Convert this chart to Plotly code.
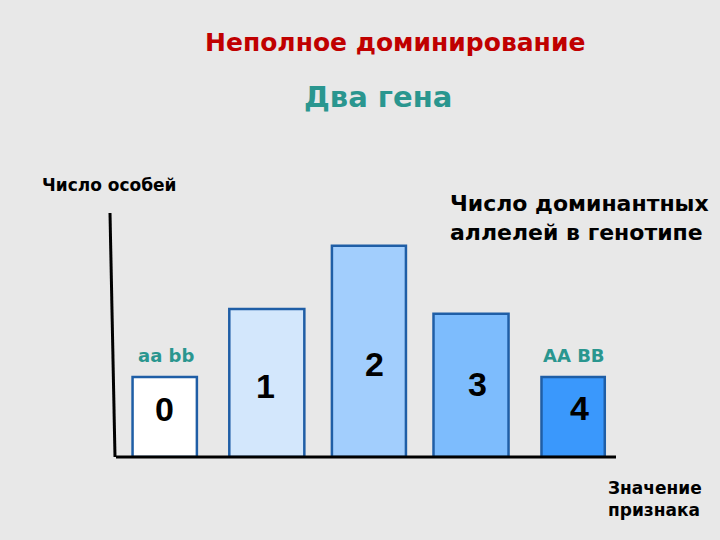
import plotly.graph_objects as go

# ---- data ----
categories = [0, 1, 2, 3, 4]
category_labels = ["0", "1", "2", "3", "4"]
counts = [1.0, 1.85, 2.64, 1.79, 1.0]
genotype_labels = ["aa bb", "", "", "", "AA BB"]

# ---- styles ----
bar_colors = ["#FFFFFF", "#D3E7FC", "#A2CEFD", "#7DBCFD", "#3A98FC"]
bar_widths = [0.63, 0.735, 0.725, 0.735, 0.62]
label_y = [0.6, 0.89, 1.16, 0.91, 0.61]
label_dx = [0, -1, 6, 6, 6]

BG = "#E8E8E8"
L, R, T, B = 115, 104, 213, 83
W, H = 720, 540
pw, ph = W - L - R, H - T - B


def px(x):
    return (x - L) / pw


def py(y):
    return (H - B - y) / ph


fig = go.Figure()
fig.add_trace(go.Bar(
    x=categories, y=counts, width=bar_widths,
    marker=dict(color=bar_colors, line=dict(color="#1F5EA6", width=2.5)),
    hoverinfo="skip", showlegend=False,
))

ann = []
for c, lab, yy, dx in zip(categories, category_labels, label_y, label_dx):
    ann.append(dict(x=c, y=yy, xref="x", yref="y", text="<b>" + lab + "</b>", showarrow=False,
                    xshift=dx, font=dict(family="Liberation Sans", size=34, color="#000000")))
for c, g in zip(categories, genotype_labels):
    if g:
        ann.append(dict(x=c, y=1.275, xref="x", yref="y", text="<b>" + g + "</b>", showarrow=False,
                        xshift=1, font=dict(family="DejaVu Sans", size=18, color="#2A968F")))

def txt(x, y, s, size, color, family="DejaVu Sans", bold=True, align="center", xanchor="center"):
    if bold:
        s = "<b>" + s + "</b>"
    ann.append(dict(x=px(x), y=py(y), xref="paper", yref="paper", text=s, showarrow=False,
                    align=align, xanchor=xanchor, yanchor="middle",
                    font=dict(family=family, size=size, color=color)))

txt(395, 42, "Неполное доминирование", 25, "#C00000")
txt(378, 97, "Два гена", 29, "#2A968F")
txt(40, 185, "Число особей", 17, "#000000", align="left", xanchor="left")
txt(579, 218, "Число доминантных<br>аллелей в генотипе", 22, "#000000", align="left")
txt(655, 499, "Значение<br>признака", 17, "#000000", align="left")

fig.update_layout(
    width=W, height=H,
    margin=dict(l=L, r=R, t=T, b=B, pad=0),
    paper_bgcolor=BG, plot_bgcolor=BG,
    annotations=ann,
    xaxis=dict(range=[-0.487, 4.42], showgrid=False, zeroline=False, showticklabels=False,
               ticks="", showline=False, fixedrange=True),
    yaxis=dict(range=[0, 3.05], showgrid=False, zeroline=False, showticklabels=False,
               ticks="", showline=False, fixedrange=True),
    shapes=[
        dict(type="line", xref="paper", yref="paper", x0=px(116), x1=px(616), y0=py(457), y1=py(457),
             line=dict(color="#000000", width=3), layer="above"),
        dict(type="line", xref="paper", yref="paper", x0=px(110), x1=px(115), y0=py(213), y1=py(457),
             line=dict(color="#000000", width=3), layer="above"),
    ],
)

fig.write_html("out.html", config={"displayModeBar": False},
               post_script="document.body.style.margin='0';document.body.style.background='#E8E8E8';")
